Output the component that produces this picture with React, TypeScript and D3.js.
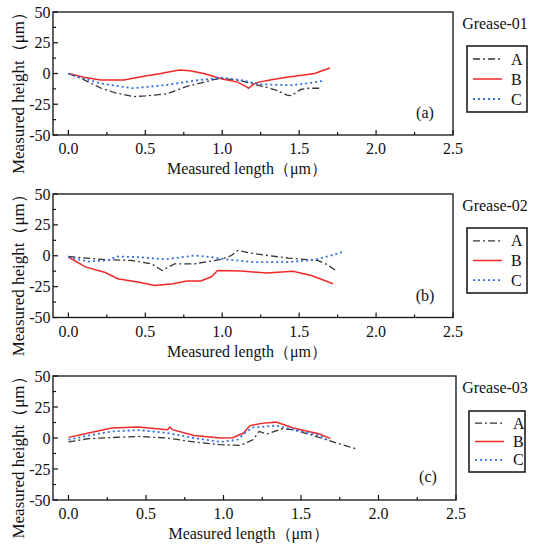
import React from "react";
import * as d3 from "d3";

type P = [number, number];

const xTicks = [0, 0.5, 1.0, 1.5, 2.0, 2.5];
const yTicks = [-50, -25, 0, 25, 50];
const panelNames = ["Grease-01", "Grease-02", "Grease-03"];
const panelTags = ["(a)", "(b)", "(c)"];
const seriesNames = ["A", "B", "C"];

const g1A: P[] = [[0,0],[0.1,-5],[0.21,-11.8],[0.3,-15.5],[0.42,-18.8],[0.5,-18.2],[0.64,-16.5],[0.77,-10.5],[0.85,-8],[0.95,-4.7],[1.0,-4],[1.12,-5.8],[1.25,-10],[1.35,-13.5],[1.42,-17.5],[1.45,-18],[1.51,-13],[1.56,-12],[1.63,-12]];
const g1B: P[] = [[0,0],[0.1,-3],[0.21,-5.3],[0.36,-5.3],[0.5,-2],[0.6,0],[0.72,2.8],[0.79,2.3],[0.88,0],[1.0,-4.5],[1.1,-7],[1.16,-11],[1.17,-12],[1.2,-9],[1.23,-7.2],[1.32,-5],[1.42,-3],[1.6,0],[1.7,4.5]];
const g1C: P[] = [[0,0],[0.1,-4],[0.21,-8],[0.42,-12],[0.64,-9.3],[0.85,-5.3],[1.0,-3.4],[1.12,-5.3],[1.25,-8.8],[1.45,-9.5],[1.55,-8],[1.66,-6]];

const g2A: P[] = [[0,-0.6],[0.24,-3.2],[0.41,-3.8],[0.54,-6.5],[0.61,-12],[0.69,-6.5],[0.82,-6.5],[0.99,-3],[1.06,0.2],[1.1,4.3],[1.21,1.6],[1.43,-1.9],[1.62,-3.8],[1.68,-7],[1.75,-13]];
const g2B: P[] = [[0,-1],[0.11,-9],[0.24,-13.6],[0.32,-18.6],[0.45,-21.3],[0.56,-24],[0.68,-22.6],[0.77,-20.5],[0.86,-20.5],[0.93,-17],[0.97,-12],[1.12,-12.4],[1.29,-14],[1.46,-12.6],[1.58,-16],[1.72,-22.7]];
const g2C: P[] = [[0,-1.1],[0.13,-4.6],[0.26,-3.8],[0.31,-0.6],[0.45,-1.1],[0.63,-2.9],[0.82,0.2],[0.93,-1.1],[1.04,-3.2],[1.21,-5.2],[1.43,-5.2],[1.6,-3.2],[1.67,-1.1],[1.78,3]];

const g3A: P[] = [[0,-3.2],[0.13,-0.5],[0.45,1.3],[0.64,0],[0.81,-3.2],[0.98,-5.4],[1.11,-5.9],[1.19,-1.4],[1.23,5.3],[1.28,3.2],[1.38,7.5],[1.45,6.7],[1.56,2.7],[1.73,-4],[1.85,-8.5]];
const g3B: P[] = [[0,0.5],[0.13,4],[0.28,8],[0.45,8.8],[0.64,6.7],[0.655,8.8],[0.67,6.7],[0.81,2],[0.98,0],[1.06,0.2],[1.13,4],[1.17,10],[1.26,12],[1.34,12.8],[1.45,8],[1.62,3.2],[1.69,-0.5]];
const g3C: P[] = [[0,-1.4],[0.13,2],[0.28,5.3],[0.45,6.4],[0.64,4],[0.81,0],[0.98,-3.2],[1.09,-1.4],[1.15,5.3],[1.19,8.5],[1.34,10],[1.45,6.7],[1.62,2],[1.68,-2.2]];

const panelData: P[][][] = [[g1A, g1B, g1C], [g2A, g2B, g2C], [g3A, g3B, g3C]];

const styles = [
  { stroke: "#333333", dash: "7,3,2,3", width: 1.3 },
  { stroke: "#f02828", dash: "", width: 1.5 },
  { stroke: "#2f6fe0", dash: "2,3", width: 1.8 },
];

const FONT = "Liberation Serif";
const layout = [
  { top: 12, bottom: 135, right: 453, legX: 467, legY: 46, legW: 60, legH: 66 },
  { top: 194, bottom: 317.5, right: 453, legX: 467, legY: 228, legW: 60, legH: 65 },
  { top: 376, bottom: 500, right: 456, legX: 469, legY: 411, legW: 56, legH: 61 },
];
const LEFT = 53;

function Panel({ idx }: { idx: number }) {
  const L = layout[idx];
  const x = d3.scaleLinear().domain([-0.1, 2.5]).range([LEFT, L.right]);
  const y = d3.scaleLinear().domain([-50, 50]).range([L.bottom, L.top]);
  const line = d3.line<P>().x((d) => x(d[0])).y((d) => y(d[1]));
  const xMinor = d3.range(0.25, 2.5, 0.5);
  const yMinor = d3.range(-37.5, 50, 25);
  const rowGap = (L.legH - 6) / 3;
  return (
    <g>
      {panelData[idx].map((s, i) => (
        <path key={i} d={line(s) || ""} fill="none" stroke={styles[i].stroke}
          strokeWidth={styles[i].width} strokeDasharray={styles[i].dash} />
      ))}
      <rect x={LEFT} y={L.top} width={L.right - LEFT} height={L.bottom - L.top}
        fill="none" stroke="#111" strokeWidth={1.3} />
      {xTicks.map((t) => (
        <g key={"x" + t}>
          <line x1={x(t)} x2={x(t)} y1={L.bottom} y2={L.bottom - 5} stroke="#111" strokeWidth={1.2} />
          <text x={x(t)} y={L.bottom + 19} textAnchor="middle" fontFamily={FONT} fontSize={16} fill="#111">
            {t.toFixed(1)}
          </text>
        </g>
      ))}
      {xMinor.map((t) => (
        <line key={"xm" + t} x1={x(t)} x2={x(t)} y1={L.bottom} y2={L.bottom - 3} stroke="#111" strokeWidth={1.2} />
      ))}
      {yTicks.map((t) => (
        <g key={"y" + t}>
          <line x1={LEFT} x2={LEFT + 5} y1={y(t)} y2={y(t)} stroke="#111" strokeWidth={1.2} />
          <text x={LEFT - 2.5} y={y(t) + 5.5} textAnchor="end" fontFamily={FONT} fontSize={16} fill="#111">
            {t}
          </text>
        </g>
      ))}
      {yMinor.map((t) => (
        <line key={"ym" + t} x1={LEFT} x2={LEFT + 3} y1={y(t)} y2={y(t)} stroke="#111" strokeWidth={1.2} />
      ))}
      <text x={(LEFT + L.right) / 2 - 6} y={L.bottom + 39} textAnchor="middle" fontFamily={FONT} fontSize={16} fill="#111">
        Measured length（μm）
      </text>
      <text transform={`translate(23.5,${(L.top + L.bottom) / 2 + 15.5}) rotate(-90)`} textAnchor="middle"
        fontFamily={FONT} fontSize={17} fill="#111">
        Measured height（μm）
      </text>
      <text x={L.right - 28} y={L.bottom - 17 + (idx === 2 ? -1 : 0)} textAnchor="middle" fontFamily={FONT} fontSize={16} fill="#111">
        {panelTags[idx]}
      </text>
      <text x={495} y={L.top + 17} textAnchor="middle" fontFamily={FONT} fontSize={16} fill="#111">
        {panelNames[idx]}
      </text>
      <rect x={L.legX} y={L.legY} width={L.legW} height={L.legH} fill="white" stroke="#111" strokeWidth={1.5} />
      {seriesNames.map((n, i) => {
        const ry = L.legY + 3 + rowGap * (i + 0.5);
        return (
          <g key={n}>
            <line x1={L.legX + 6} x2={L.legX + 35} y1={ry} y2={ry} stroke={styles[i].stroke}
              strokeWidth={styles[i].width} strokeDasharray={styles[i].dash} />
            <text x={L.legX + 44} y={ry + 5.5} fontFamily={FONT} fontSize={16} fill="#111">{n}</text>
          </g>
        );
      })}
    </g>
  );
}

export default function App() {
  return (
    <svg width={533} height={544} style={{ position: "absolute", left: 0, top: 0, background: "white" }}>
      <rect width={533} height={544} fill="white" />
      {[0, 1, 2].map((i) => (
        <Panel key={i} idx={i} />
      ))}
    </svg>
  );
}
